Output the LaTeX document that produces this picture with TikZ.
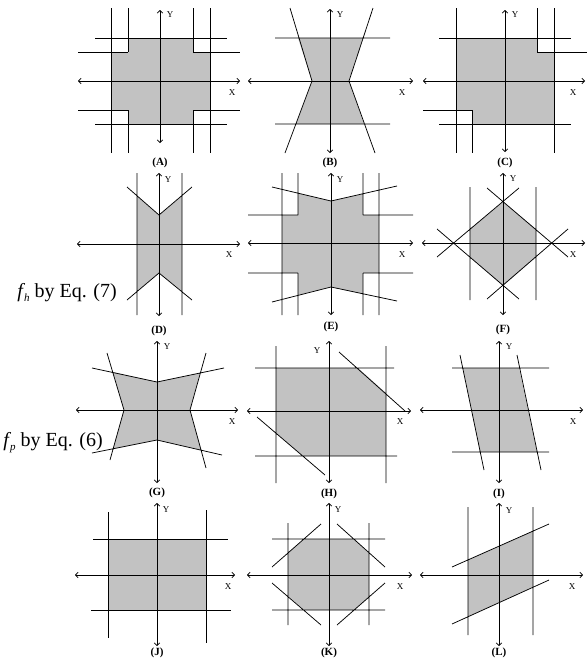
\documentclass[tikz,border=0pt]{standalone}
\usepackage{fontspec}
\setmainfont{Liberation Serif}
\usetikzlibrary{arrows.meta}
\definecolor{shade}{RGB}{194,194,194}
\tikzset{
  region/.style={fill=shade, draw=none},
  bline/.style={line width=0.75pt},
  axis/.style={line width=0.75pt, {Straight Barb[length=2.6pt,width=5.5pt]}-{Straight Barb[length=2.6pt,width=5.5pt]}},
  axlbl/.style={font=\fontsize{9}{9}\selectfont, inner sep=0pt},
  plbl/.style={font=\bfseries\fontsize{11}{11}\selectfont, inner sep=0pt},
  eqlbl/.style={font=\fontsize{20}{22}\selectfont, inner sep=0pt, anchor=east},
}
\newcommand{\eqsub}[1]{\kern-0.06em\raisebox{-0.2em}{\fontsize{11}{11}\selectfont\itshape #1}}
\begin{document}
\begin{tikzpicture}[x=1pt,y=-1pt]
\useasboundingbox (0,0) rectangle (587,659);
% ---------------- A ----------------
\fill[region] (128,38)--(193,38)--(193,52)--(210,52)--(210,110)--(193,110)--(193,124)--(128,124)--(128,110)--(111,110)--(111,52)--(128,52)--cycle;
\draw[bline] (111,8)--(111,153) (210,8)--(210,153)
  (128,8)--(128,52) (128,110)--(128,153) (193,8)--(193,52) (193,110)--(193,153)
  (95,38)--(227,38) (95,124)--(227,124)
  (78,52)--(128,52) (193,52)--(240,52) (78,110)--(128,110) (193,110)--(240,110);
\draw[axis] (78,81)--(240,81);
\draw[axis] (160,143)--(160,10);
\node[axlbl] (aY) at (170,15) {Y};
\node[axlbl] (aX) at (232,93) {X};
\node[plbl] (aL) at (160,163) {(A)};
% ---------------- B ----------------
\fill[region] (298,38)--(363,38)--(349,81)--(364,124)--(296,124)--(312,81)--cycle;
\draw[bline] (275,38)--(390,38) (275,124)--(390,124)
  (290,8)--(312,81)--(285,153) (373,8)--(349,81)--(375,153);
\draw[axis] (248,81)--(413,81);
\draw[axis] (330,153)--(330,9);
\node[axlbl] (bY) at (340,15) {Y};
\node[axlbl] (bX) at (402,93) {X};
\node[plbl] (bL) at (330,163) {(B)};
% ---------------- C ----------------
\fill[region] (456,38)--(537,38)--(537,52)--(554,52)--(554,124)--(472,124)--(472,110)--(456,110)--cycle;
\draw[bline] (456,8)--(456,153) (554,8)--(554,153) (537,8)--(537,52) (472,110)--(472,153)
  (439,38)--(571,38) (439,124)--(571,124) (537,52)--(587,52) (423,110)--(472,110);
\draw[axis] (423,81)--(585,81);
\draw[axis] (505,152)--(505,10);
\node[axlbl] (cY) at (515,15) {Y};
\node[axlbl] (cX) at (573,93) {X};
\node[plbl] (cL) at (505,163) {(C)};
% ---------------- D ----------------
\fill[region] (137,196)--(159,215)--(182,196)--(182,291)--(159,273)--(137,291)--cycle;
\draw[bline] (137,173)--(137,315) (182,173)--(182,315)
  (127,187)--(159,215)--(192,187) (127,300)--(159,273)--(192,300);
\draw[axis] (77,244)--(240,244);
\draw[axis] (159,316)--(159,173);
\node[axlbl] (dY) at (168,180) {Y};
\node[axlbl] (dX) at (229,255) {X};
\node[plbl] (dL) at (159,331) {(D)};
\node[eqlbl] (fh) at (117,293) {\textit{f}\eqsub{h} by Eq. (7)};
% ---------------- E ----------------
\fill[region] (298,193)--(331,201)--(363,194)--(363,215)--(379,215)--(379,273)--(363,273)--(363,294)--(331,287)--(298,295)--(298,273)--(282,273)--(282,215)--(298,215)--cycle;
\draw[bline] (282,173)--(282,315) (379,173)--(379,315)
  (298,173)--(298,215) (298,273)--(298,315) (363,173)--(363,215) (363,273)--(363,315)
  (248,215)--(298,215) (363,215)--(413,215) (248,273)--(298,273) (363,273)--(413,273)
  (272,187)--(331,201)--(397,186) (272,302)--(331,287)--(397,301);
\draw[axis] (248,243)--(413,243);
\draw[axis] (331,315)--(331,173);
\node[axlbl] (eY) at (340,180) {Y};
\node[axlbl] (eX) at (402,255) {X};
\node[plbl] (eL) at (331,327) {(E)};
% ---------------- F ----------------
\fill[region] (503,202)--(536,229)--(536,257)--(503,286)--(470,257)--(470,229)--cycle;
\draw[bline] (470,187)--(470,300) (536,187)--(536,300)
  (487,188)--(568,257) (519,188)--(437,257) (437,229)--(519,299) (568,229)--(487,299);
\draw[axis] (422,243)--(585,243);
\draw[axis] (503,315)--(503,173);
\node[axlbl] (fY) at (513,179) {Y};
\node[axlbl] (fX) at (573,255) {X};
\node[plbl] (fL) at (503,330) {(F)};
% ---------------- G ----------------
\fill[region] (113,372)--(157,382)--(200,373)--(190,410)--(201,450)--(157,440)--(113,449)--(124,410)--cycle;
\draw[bline] (92,368)--(157,382)--(224,368) (92,453)--(157,440)--(222,455)
  (107,353)--(124,410)--(110,460) (206,353)--(190,410)--(206,468);
\draw[axis] (76,410)--(238,410);
\draw[axis] (157,483)--(157,341);
\node[axlbl] (gY) at (167,347) {Y};
\node[axlbl] (gX) at (232,422) {X};
\node[plbl] (gL) at (157,493) {(G)};
\node[eqlbl] (fp) at (103,443) {\textit{f}\eqsub{p} by Eq. (6)};
% ---------------- H ----------------
\fill[region] (276,368)--(358,368)--(386,393)--(386,456)--(303,456)--(276,433)--cycle;
\draw[bline] (276,346)--(276,483) (386,346)--(386,483)
  (255,368)--(394,368) (255,456)--(397,456)
  (339,352)--(405,411) (257,417)--(325,475);
\draw[axis] (247,411)--(411,411);
\draw[axis] (329,483)--(329,341);
\node[axlbl] (hY) at (317,351) {Y};
\node[axlbl] (hX) at (400,422) {X};
\node[plbl] (hL) at (329,494) {(H)};
% ---------------- I ----------------
\fill[region] (463,368)--(519,368)--(537,452)--(480,452)--cycle;
\draw[bline] (452,368)--(549,368) (452,452)--(549,452)
  (460,355)--(484,470) (517,355)--(541,470);
\draw[axis] (420,410)--(583,410);
\draw[axis] (499,483)--(499,341);
\node[axlbl] (iY) at (509,347) {Y};
\node[axlbl] (iX) at (573,422) {X};
\node[plbl] (iL) at (499,494) {(I)};
% ---------------- J ----------------
\fill[region] (108,539) rectangle (206,610);
\draw[bline] (108,512)--(108,638) (206,510)--(206,643)
  (93,539)--(228,539) (91,610)--(231,610);
\draw[axis] (75,575)--(235,575);
\draw[axis] (157,646)--(157,503);
\node[axlbl] (jY) at (166,510) {Y};
\node[axlbl] (jX) at (228,587) {X};
\node[plbl] (jL) at (157,653) {(J)};
% ---------------- K ----------------
\fill[region] (304,539)--(354,539)--(369,553)--(369,597)--(354,610)--(304,610)--(288,596)--(288,553)--cycle;
\draw[bline] (288,523)--(288,625) (369,523)--(369,625)
  (272,539)--(385,539) (272,610)--(385,610)
  (272,567)--(321,524) (337,524)--(385,567) (272,583)--(321,625) (337,625)--(385,583);
\draw[axis] (247,575)--(412,575);
\draw[axis] (329,646)--(329,503);
\node[axlbl] (kY) at (338,510) {Y};
\node[axlbl] (kX) at (400,587) {X};
\node[plbl] (kL) at (329,653) {(K)};
% ---------------- L ----------------
\fill[region] (468,560)--(533,531)--(533,587)--(468,617)--cycle;
\draw[bline] (468,507)--(468,635) (533,507)--(533,635)
  (452,567)--(549,524) (452,624)--(549,580);
\draw[axis] (420,575)--(583,575);
\draw[axis] (499,646)--(499,503);
\node[axlbl] (lY) at (509,511) {Y};
\node[axlbl] (lX) at (572,587) {X};
\node[plbl] (lL) at (499,653) {(L)};
\end{tikzpicture}
\end{document}
